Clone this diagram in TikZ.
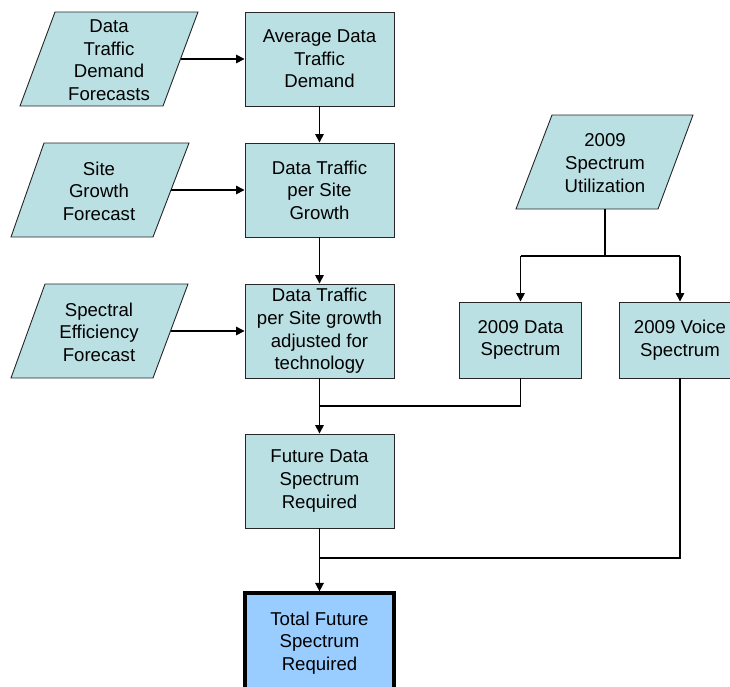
\documentclass[tikz,border=0pt]{standalone}
\usepackage{fontspec}
\setmainfont{Liberation Sans}
\usetikzlibrary{arrows.meta}
\definecolor{teal1}{HTML}{BBE0E3}
\definecolor{blue1}{HTML}{99CCFF}
\tikzset{
  shapeline/.style={draw=black!85, line width=0.9pt, fill=teal1},
  boxnode/.style={shapeline, rectangle, inner sep=0pt, align=center,
    minimum width=149pt, minimum height=94pt},
  smallbox/.style={shapeline, rectangle, inner sep=0pt, align=center,
    minimum width=122pt, minimum height=76pt},
  finalbox/.style={boxnode, fill=blue1, line width=3.2pt, draw=black, minimum height=100pt},
  txt/.style={inner sep=0pt, align=center},
  conn/.style={line width=1.5pt, draw=black},
  arr/.style={conn, -{Triangle[length=8.5pt,width=8.5pt]}},
  every node/.style={font=\fontsize{18.6}{22.6}\selectfont}
}
\begin{document}
\begin{tikzpicture}[x=1pt,y=-1pt]
\useasboundingbox (0,0) rectangle (730,686);
% parallelograms
\draw[shapeline] (55,12) -- (198,12) -- (163,106) -- (20,106) -- cycle;
\node[txt] (p1) at (109,60) {Data\\Traffic\\Demand\\Forecasts};
\coordinate (p1r) at (180.5,59);
\draw[shapeline] (44,143) -- (189,143) -- (153,237) -- (11,237) -- cycle;
\node[txt] (p2) at (99,191) {Site\\Growth\\Forecast};
\coordinate (p2r) at (171,190);
\draw[shapeline] (45,284) -- (188,284) -- (153,378) -- (11,378) -- cycle;
\node[txt] (p3) at (99,332) {Spectral\\Efficiency\\Forecast};
\coordinate (p3r) at (170.5,331);
\draw[shapeline] (552,115) -- (693,115) -- (658,209) -- (516,209) -- cycle;
\node[txt] (p4) at (605,163) {2009\\Spectrum\\Utilization};
\coordinate (p4b) at (605,209);
% boxes
\node[boxnode] (b1) at (319.5,59) {Average Data\\Traffic\\Demand};
\node[boxnode] (b2) at (319.5,190) {Data Traffic\\per Site\\Growth};
\node[boxnode] (b3) at (319.5,331) {Data Traffic\\per Site growth\\adjusted for\\technology};
\node[boxnode] (b4) at (319.5,481) {Future Data\\Spectrum\\Required};
\node[finalbox] (b5) at (319.5,643) {Total Future\\Spectrum\\Required};
\node[smallbox] (d) at (520.5,340) {2009 Data\\Spectrum};
\node[smallbox] (v) at (680,340) {2009 Voice\\Spectrum};
% junctions
\coordinate (j1) at (605,256);
\coordinate (jd) at (520.5,256);
\coordinate (jv) at (680,256);
\coordinate (k1) at (520.5,406);
\coordinate (k2) at (319.5,406);
\coordinate (m1) at (680,558);
\coordinate (m2) at (319.5,558);
% connectors
\draw[arr] (p1r) -- (b1.west);
\draw[arr] (p2r) -- (b2.west);
\draw[arr] (p3r) -- (b3.west);
\draw[arr] (b1.south) -- (b2.north);
\draw[arr] (b2.south) -- (b3.north);
\draw[arr] (b3.south) -- (b4.north);
\draw[arr] (b4.south) -- (b5.north);
\draw[conn] (d.south) -- (k1) -- (k2);
\draw[conn] (p4b) -- (j1);
\draw[arr] (jd) -- (d.north);
\draw[arr] (jv) -- (v.north);
\draw[conn] (jd) -- (jv);
\draw[conn] (v.south) -- (m1) -- (m2);
\end{tikzpicture}
\end{document}
